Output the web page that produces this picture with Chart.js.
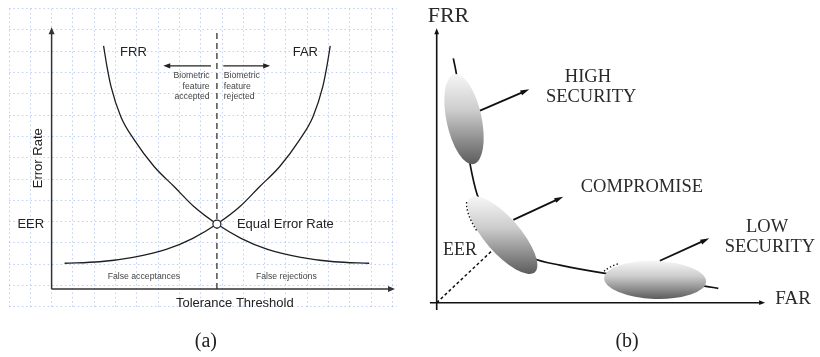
<!DOCTYPE html>
<html>
<head>
<meta charset="utf-8">
<title>Error rate vs. tolerance threshold, and FRR/FAR operating regions</title>
<script src="https://cdn.jsdelivr.net/npm/chart.js@4/dist/chart.umd.min.js"></script>
<style>
  html, body { margin: 0; padding: 0; background: #ffffff; }
  #wrap { position: relative; width: 820px; height: 357px; overflow: hidden; }
  .panel { position: absolute; top: 0; width: 410px; height: 357px; }
  .panel canvas { display: block; }
</style>
</head>
<body>
<div id="wrap">
  <div class="panel" style="left:0"><canvas id="chartA" width="410" height="357"></canvas></div>
  <div class="panel" style="left:410px"><canvas id="chartB" width="410" height="357"></canvas></div>
</div>
<script>
// ---------- (a) error rates against the tolerance threshold ----------
const thresholdFRR = [2.44, 2.60, 2.79, 3.25, 3.88, 4.82, 5.76, 6.69, 7.76, 8.89, 10.14, 11.70, 13.27, 14.91];
const frrRate      = [11.41, 10.44, 9.50, 8.09, 7.00, 5.74, 4.80, 3.86, 3.05, 2.38, 1.86, 1.49, 1.28, 1.21];
const thresholdFAR = [0.61, 2.25, 3.82, 5.38, 6.63, 7.76, 8.83, 9.76, 10.70, 11.64, 12.27, 12.73, 12.92, 13.08];
const farRate      = [1.21, 1.28, 1.49, 1.86, 2.38, 3.05, 3.86, 4.80, 5.74, 7.00, 8.09, 9.50, 10.44, 11.41];
const eerThreshold = 7.76;
const eerRate = 3.05;

// ---------- (b) FRR against FAR with operating regions ----------
const curveFAR = [4.15, 4.83, 6.58, 8.33, 10.15, 13.3, 17.1, 24.15, 30.8, 42.1, 54.6, 66.65, 70.4];
const curveFRR = [61.1, 57.75, 45.9, 34.7, 26.9, 20.7, 15.7, 11.1, 9.4, 7.35, 5.7, 4.2, 3.6];
const regionNames = [['HIGH', 'SECURITY'], ['COMPROMISE'], ['LOW', 'SECURITY']];
const regionFAR = [6.83, 16.45, 54.6];
const regionFRR = [45.9, 16.9, 5.7];
const eerPointFAR = 17;
const eerPointFRR = 16;

const toXY = (xs, ys) => xs.map((x, i) => ({ x, y: ys[i] }));
const INK = '#222222';

function drawArrow(ctx, x1, y1, x2, y2, len, half, color, width) {
  const a = Math.atan2(y2 - y1, x2 - x1);
  const c = Math.cos(a), s = Math.sin(a);
  ctx.save();
  ctx.strokeStyle = color;
  ctx.fillStyle = color;
  ctx.lineWidth = width;
  ctx.beginPath();
  ctx.moveTo(x1, y1);
  ctx.lineTo(x2 - c * len * 0.7, y2 - s * len * 0.7);
  ctx.stroke();
  ctx.beginPath();
  ctx.moveTo(x2, y2);
  ctx.lineTo(x2 - c * len + s * half, y2 - s * len - c * half);
  ctx.lineTo(x2 - c * len - s * half, y2 - s * len + c * half);
  ctx.closePath();
  ctx.fill();
  ctx.restore();
}

function drawText(ctx, str, x, y, font, color, align, baseline, rot) {
  ctx.save();
  ctx.font = font;
  ctx.fillStyle = color;
  ctx.textAlign = align || 'center';
  ctx.textBaseline = baseline || 'middle';
  if (rot) {
    ctx.translate(x, y);
    ctx.rotate(rot);
    ctx.fillText(str, 0, 0);
  } else {
    ctx.fillText(str, x, y);
  }
  ctx.restore();
}

// Axes, annotations and labels of panel (a)
const panelAPlugin = {
  id: 'panelA',
  beforeDatasetsDraw(chart) {
    const { ctx, scales: { x, y } } = chart;
    const px = v => x.getPixelForValue(v), py = v => y.getPixelForValue(v);
    drawArrow(ctx, px(0), py(0), px(0), py(12.29), 7, 3, '#333', 1.5);
    drawArrow(ctx, px(0), py(0), px(16.12), py(0), 7, 3, '#333', 1.5);
  },
  afterDraw(chart) {
    const { ctx, scales: { x, y } } = chart;
    const px = v => x.getPixelForValue(v), py = v => y.getPixelForValue(v);
    const sans = 'Liberation Sans, Arial, sans-serif';

    drawText(ctx, 'FRR', px(3.84), py(11.11), '13px ' + sans, INK);
    drawText(ctx, 'FAR', px(11.91), py(11.11), '13px ' + sans, INK);

    drawArrow(ctx, px(7.48), py(10.48), px(5.24), py(10.48), 7, 2.6, '#222', 1.2);
    drawArrow(ctx, px(8.06), py(10.48), px(10.26), py(10.48), 7, 2.6, '#222', 1.2);

    const small = '8.7px ' + sans;
    ['Biometric', 'feature', 'accepted'].forEach((t, i) =>
      drawText(ctx, t, px(7.42), py(10.0 - i * 0.495), small, '#444', 'right'));
    ['Biometric', 'feature', 'rejected'].forEach((t, i) =>
      drawText(ctx, t, px(8.08), py(10.0 - i * 0.495), small, '#444', 'left'));

    drawText(ctx, 'EER', px(-0.35), py(eerRate), '13px ' + sans, INK, 'right');
    drawText(ctx, 'Equal Error Rate', px(8.7), py(eerRate), '13px ' + sans, INK, 'left');
    drawText(ctx, 'Error Rate', px(-0.61), py(6.14), '13px ' + sans, INK, 'center', 'middle', -Math.PI / 2);
    drawText(ctx, 'False acceptances', px(4.33), py(0.56), small, '#444');
    drawText(ctx, 'False rejections', px(11.02), py(0.56), small, '#444');
    drawText(ctx, 'Tolerance Threshold', px(8.6), py(-0.67), '13px ' + sans, INK);

    drawText(ctx, '(a)', px(7.24), 342, '20px Liberation Serif, serif', INK);
  }
};

const gridStyle = { color: 'rgba(150,175,238,0.6)', lineWidth: 1, drawTicks: false };
const gridBorder = { display: false, dash: [1.5, 2.8] };

new Chart(document.getElementById('chartA'), {
  type: 'line',
  data: {
    datasets: [
      {
        label: 'EER',
        data: [{ x: eerThreshold, y: eerRate }],
        showLine: false,
        pointRadius: 4,
        pointBackgroundColor: '#ffffff',
        pointBorderColor: '#222222',
        pointBorderWidth: 1.2
      },
      {
        label: 'FRR',
        data: toXY(thresholdFRR, frrRate),
        borderColor: '#1e1e1e',
        borderWidth: 1.3,
        pointRadius: 0,
        cubicInterpolationMode: 'monotone'
      },
      {
        label: 'FAR',
        data: toXY(thresholdFAR, farRate),
        borderColor: '#1e1e1e',
        borderWidth: 1.3,
        pointRadius: 0,
        cubicInterpolationMode: 'monotone'
      },
      {
        label: 'threshold',
        data: [{ x: eerThreshold, y: 0 }, { x: eerThreshold, y: 12.2 }],
        borderColor: '#333333',
        borderWidth: 1.3,
        borderDash: [6, 4],
        pointRadius: 0
      }
    ]
  },
  options: {
    responsive: false,
    animation: false,
    layout: { padding: { left: 9, right: 13.3, top: 8.7, bottom: 50.1 } },
    plugins: { legend: { display: false }, tooltip: { enabled: false } },
    scales: {
      x: {
        type: 'linear', min: -2, max: 16.2,
        afterBuildTicks: s => { const t = []; for (let k = -2; k <= 16; k++) t.push({ value: k }); s.ticks = t; },
        ticks: { display: false },
        grid: gridStyle,
        border: gridBorder
      },
      y: {
        type: 'linear', min: -0.84, max: 13.16,
        afterBuildTicks: s => { const t = []; for (let k = 0; k <= 14; k++) t.push({ value: -0.84 + k }); s.ticks = t; },
        ticks: { display: false },
        grid: gridStyle,
        border: gridBorder
      }
    }
  },
  plugins: [panelAPlugin]
});

// Operating regions of panel (b): spread along / across the curve, tilt (deg, clockwise on screen)
const regionShape = [
  { a: 11.5, b: 4.4, tilt: 78 },
  { a: 12.3, b: 4.4, tilt: 49 },
  { a: 12.75, b: 4.75, tilt: 2 }
];

const panelBPlugin = {
  id: 'panelB',
  beforeDatasetsDraw(chart) {
    const { ctx, scales: { x, y } } = chart;
    const px = v => x.getPixelForValue(v), py = v => y.getPixelForValue(v);
    drawArrow(ctx, px(0), py(-1.8), px(0), py(68.6), 6, 2.4, '#111', 1.6);
    drawArrow(ctx, px(-1.7), py(0), px(82.1), py(0), 6, 2.4, '#111', 1.6);
  },
  afterDatasetsDraw(chart) {
    const { ctx, scales: { x, y } } = chart;
    const px = v => x.getPixelForValue(v), py = v => y.getPixelForValue(v);
    const unit = px(1) - px(0);
    regionFAR.forEach((f, i) => {
      const cx = px(f), cy = py(regionFRR[i]);
      const sh = regionShape[i];
      const A = sh.a * unit, B = sh.b * unit, th = sh.tilt * Math.PI / 180;
      const halfH = Math.sqrt(Math.pow(A * Math.sin(th), 2) + Math.pow(B * Math.cos(th), 2));
      const g = ctx.createLinearGradient(0, cy - halfH, 0, cy + halfH);
      g.addColorStop(0, '#f6f6f6');
      g.addColorStop(0.4, '#cdcdcd');
      g.addColorStop(1, '#5c5c5c');
      ctx.save();
      ctx.fillStyle = g;
      ctx.beginPath();
      ctx.ellipse(cx, cy, A, B, th, 0, Math.PI * 2);
      ctx.fill();
      ctx.restore();
    });
    // dotted rims on the compromise and low-security regions
    const rims = [[1, 114, 166, 1.03], [2, 200, 228, 1.07]];
    rims.forEach(([i, t0, t1, k]) => {
      const sh = regionShape[i];
      ctx.save();
      ctx.strokeStyle = '#111';
      ctx.lineWidth = 1.4;
      ctx.setLineDash([1.4, 2.2]);
      ctx.beginPath();
      ctx.ellipse(px(regionFAR[i]), py(regionFRR[i]), sh.a * unit * k, sh.b * unit * k,
        sh.tilt * Math.PI / 180, t0 * Math.PI / 180, t1 * Math.PI / 180);
      ctx.stroke();
      ctx.restore();
    });
  },
  afterDraw(chart) {
    const { ctx, scales: { x, y } } = chart;
    const px = v => x.getPixelForValue(v), py = v => y.getPixelForValue(v);
    const serif = 'Liberation Serif, Times New Roman, serif';
    const col = '#2a2a2a';

    drawArrow(ctx, px(10.83), py(48.0), px(23.15), py(53.35), 9, 2.6, '#111', 1.8);
    drawArrow(ctx, px(19.15), py(20.7), px(31.65), py(26.5), 9, 2.6, '#111', 1.8);
    drawArrow(ctx, px(55.8), py(10.5), px(68.15), py(16.1), 9, 2.6, '#111', 1.8);

    drawText(ctx, 'FRR', px(2.95), py(71.7), '22px ' + serif, col);
    drawText(ctx, 'FAR', px(89.1), py(0.85), '19px ' + serif, col);
    drawText(ctx, 'EER', px(5.8), py(13.2), '18px ' + serif, col);

    drawText(ctx, regionNames[0][0], px(37.8), py(56.35), '18.5px ' + serif, col);
    drawText(ctx, regionNames[0][1], px(38.6), py(51.5), '18.5px ' + serif, col);
    drawText(ctx, regionNames[1][0], px(51.3), py(28.85), '18.5px ' + serif, col);
    drawText(ctx, regionNames[2][0], px(82.6), py(19.0), '18.5px ' + serif, col);
    drawText(ctx, regionNames[2][1], px(83.3), py(14.0), '18.5px ' + serif, col);

    drawText(ctx, '(b)', px(47.6), 342, '20px Liberation Serif, serif', INK);
  }
};

new Chart(document.getElementById('chartB'), {
  type: 'line',
  data: {
    datasets: [
      {
        label: 'FRR vs FAR',
        data: toXY(curveFAR, curveFRR),
        borderColor: '#111111',
        borderWidth: 1.7,
        pointRadius: 0,
        cubicInterpolationMode: 'monotone'
      },
      {
        label: 'EER diagonal',
        data: [{ x: 0, y: 0 }, { x: eerPointFAR, y: eerPointFRR }],
        borderColor: '#111111',
        borderWidth: 1.5,
        borderDash: [3, 2.5],
        pointRadius: 0
      }
    ]
  },
  options: {
    responsive: false,
    animation: false,
    layout: { padding: { left: 16.7, right: 3.3, top: 12.7, bottom: 44.3 } },
    plugins: { legend: { display: false }, tooltip: { enabled: false } },
    scales: {
      x: { type: 'linear', min: -2.5, max: 95, display: false },
      y: { type: 'linear', min: -2.5, max: 72.5, display: false }
    }
  },
  plugins: [panelBPlugin]
});
</script>
</body>
</html>
